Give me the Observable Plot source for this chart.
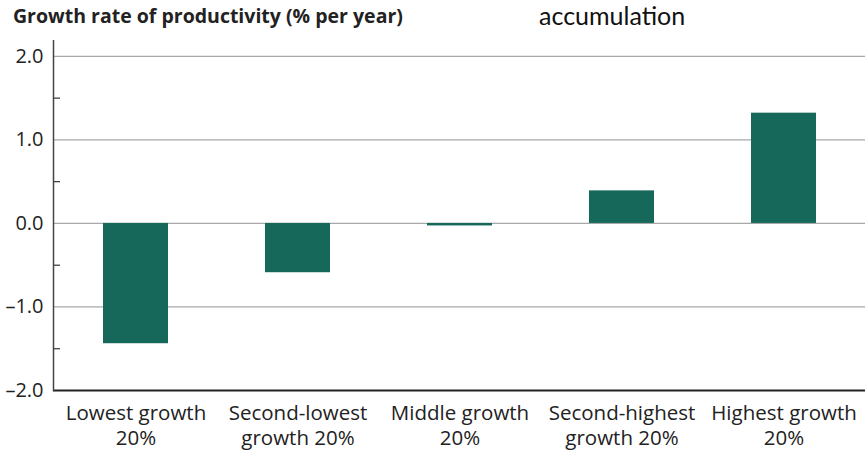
<!DOCTYPE html>
<html>
<head>
<meta charset="utf-8">
<script src="https://cdn.jsdelivr.net/npm/d3@7"></script>
<script src="https://cdn.jsdelivr.net/npm/@observablehq/plot@0.6"></script>
<style>
  body { margin: 0; background: #fff; }
  #wrap { position: relative; width: 865px; height: 450px; overflow: hidden; font-family: "Open Sans", sans-serif; }
  #head { position: relative; height: 40px; }
  #title { position: absolute; left: 13px; top: 2px; font-size: 19.5px; font-weight: 700; color: #222; white-space: nowrap; }
  #note { position: absolute; left: 539px; top: 3px; font-family: Lato, sans-serif; font-size: 25px; line-height: 25px; color: #111; white-space: nowrap; }
  svg { display: block; }
</style>
</head>
<body>
<div id="wrap">
  <div id="head">
    <div id="title">Growth rate of productivity (% per year)</div>
    <div id="note">accumulation</div>
  </div>
  <div id="chart"></div>
</div>
<script>
// Productivity growth by quintile of growth
const categories = ["Lowest", "Second-lowest", "Middle", "Second-highest", "Highest"];
const labels = [
  "Lowest growth\n20%",
  "Second-lowest\ngrowth 20%",
  "Middle growth\n20%",
  "Second-highest\ngrowth 20%",
  "Highest growth\n20%"
];
const values = [-1.44, -0.59, -0.03, 0.39, 1.32];
const majorTicks = [-2, -1, 0, 1, 2];
const minorTicks = [-1.5, -0.5, 0.5, 1.5];
const gridTicks = [-1, 0, 1, 2];

const data = categories.map((c, i) => ({cat: c, label: labels[i], value: values[i]}));
const fmt = d => (d < 0 ? "\u2013" : "") + Math.abs(d).toFixed(1);

const W = 865, ML = 53, MR = 0;

const chart = Plot.plot({
  width: W,
  height: 410,
  marginLeft: ML,
  marginRight: MR,
  marginTop: 0,
  marginBottom: 60,
  style: { fontFamily: "'Open Sans', sans-serif", color: "#222", background: "#fff" },
  x: { domain: categories, paddingInner: 0.6, paddingOuter: 0.3, axis: null },
  y: { domain: [-2, 2.19], axis: null },
  marks: [
    Plot.ruleY(gridTicks, { stroke: "#a8a8a8", strokeWidth: 1.3 }),
    Plot.ruleY(minorTicks, { stroke: "#333", strokeWidth: 1.2, insetRight: W - ML - MR - 7 }),
    Plot.barY(data, { x: "cat", y: "value", fill: "#16695a" }),
    Plot.ruleY([-2], { stroke: "#222", strokeWidth: 2 }),
    Plot.frame({ anchor: "left", stroke: "#444", strokeWidth: 1.5 }),
    Plot.axisY({ ticks: majorTicks, tickSize: 0, tickPadding: 10, tickFormat: fmt, fontSize: 20, label: null }),
    Plot.text(data, {
      x: "cat", text: "label", frameAnchor: "bottom", lineAnchor: "top",
      dy: 12, lineHeight: 1.22, fontSize: 20.5, fill: "#222"
    })
  ]
});
document.getElementById("chart").append(chart);
</script>
</body>
</html>
